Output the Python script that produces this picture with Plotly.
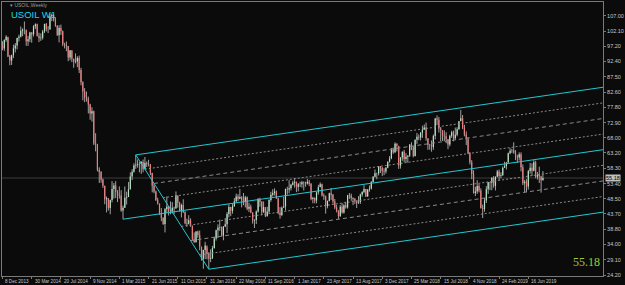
import pandas as pd
import plotly.graph_objects as go

# ---------------- data (weekly USOIL bars, week start dates) ----------------
start_week = "2013-12-08"
first_open = 97.6
closes = [
    96.6, 99.3, 100.3, 94.0, 92.7, 94.4, 96.6, 97.5, 99.9, 100.3, 102.2, 102.6, 102.6, 98.9, 99.5, 101.7,
    101.1, 103.7, 104.3, 100.6, 99.8, 100.0, 102.0, 104.4, 102.7, 102.7, 106.9, 107.3, 105.7, 103.8, 100.8, 103.1,
    102.1, 97.9, 97.7, 97.4, 93.7, 96.0, 93.3, 92.3, 92.4, 93.5, 89.7, 85.8, 82.8, 81.0, 80.5, 78.7,
    75.8, 76.5, 66.2, 65.8, 57.8, 57.1, 54.7, 52.7, 48.4, 48.7, 45.6, 48.2, 51.7, 52.8, 50.8, 49.8,
    49.6, 44.8, 45.7, 48.9, 49.1, 51.6, 55.7, 57.2, 59.2, 59.4, 59.7, 59.7, 60.3, 58.0, 60.0, 59.6,
    59.6, 56.9, 52.7, 50.9, 48.1, 47.1, 43.9, 42.5, 40.5, 45.2, 46.1, 44.6, 44.7, 45.7, 45.5, 49.6,
    47.3, 44.6, 46.6, 44.3, 40.7, 40.4, 41.7, 40.0, 35.6, 34.7, 38.1, 37.0, 33.2, 29.4, 32.2, 33.6,
    30.9, 29.4, 29.6, 32.8, 35.9, 38.5, 39.4, 39.5, 36.8, 39.7, 40.4, 43.7, 45.9, 44.7, 46.2, 47.8,
    49.3, 48.6, 49.1, 48.0, 47.6, 49.0, 45.4, 46.0, 44.2, 41.6, 41.8, 44.5, 48.5, 47.6, 44.4, 45.9,
    43.0, 44.5, 48.2, 49.8, 50.4, 50.9, 48.7, 44.1, 43.4, 45.7, 46.1, 51.7, 51.5, 51.9, 53.0, 53.7,
    54.0, 52.4, 53.2, 53.2, 53.8, 53.9, 53.4, 54.0, 53.3, 48.5, 48.8, 48.0, 50.6, 52.2, 53.2, 49.6,
    49.3, 46.2, 47.8, 50.3, 49.8, 47.7, 45.8, 44.7, 43.0, 46.0, 44.2, 46.5, 45.8, 49.7, 49.6, 48.8,
    48.5, 47.9, 47.3, 47.5, 49.9, 50.7, 51.7, 49.3, 51.5, 51.8, 53.9, 55.6, 56.7, 56.6, 59.0, 58.4,
    57.4, 57.3, 58.5, 60.4, 61.4, 64.3, 63.4, 66.1, 65.5, 59.2, 61.7, 63.6, 61.3, 62.0, 62.3, 65.9,
    64.9, 62.1, 67.4, 68.4, 68.1, 69.7, 70.7, 71.3, 67.9, 65.8, 65.7, 65.1, 68.6, 74.2, 73.8, 71.0,
    70.5, 68.7, 68.5, 67.6, 65.9, 68.7, 69.8, 67.8, 69.0, 70.8, 73.3, 74.3, 71.3, 69.1, 67.6, 63.1,
    60.2, 56.5, 50.4, 50.9, 52.6, 51.2, 45.6, 45.3, 48.0, 51.6, 53.8, 53.7, 55.3, 52.7, 55.6, 57.3,
    55.8, 56.1, 58.5, 59.0, 60.1, 63.1, 63.9, 64.0, 63.3, 61.9, 61.7, 62.8, 58.6, 53.5, 54.0, 52.5,
    57.4, 58.5, 57.5, 60.2, 55.6, 56.2, 55.7, 54.5, 55.18,
]
highs = [
    98.9, 99.5, 100.8, 100.1, 94.5, 94.6, 97.8, 98.3, 100.0, 101.0, 103.6, 103.0, 105.2, 102.4, 100.6, 101.9,
    101.8, 104.0, 104.6, 104.5, 101.6, 101.4, 102.5, 104.5, 104.7, 103.7, 107.7, 107.7, 107.5, 106.5, 104.0, 104.0,
    104.2, 102.3, 98.4, 98.8, 97.4, 96.0, 95.9, 93.3, 95.0, 94.1, 94.3, 90.4, 86.1, 83.9, 82.8, 81.2,
    78.9, 77.8, 76.7, 69.5, 66.1, 58.6, 57.4, 55.0, 52.7, 49.3, 48.8, 48.3, 54.2, 53.6, 54.2, 51.3,
    52.5, 51.3, 46.4, 52.5, 50.8, 53.9, 57.0, 58.0, 59.9, 62.6, 61.1, 60.4, 60.6, 61.1, 61.9, 60.5,
    61.0, 59.7, 56.8, 53.4, 51.2, 48.9, 46.2, 45.6, 42.6, 45.6, 49.3, 46.2, 47.7, 47.5, 46.0, 50.9,
    49.6, 47.6, 47.0, 48.4, 44.6, 42.2, 43.3, 42.3, 39.7, 37.8, 38.2, 38.4, 38.4, 33.3, 32.3, 34.8,
    33.0, 31.5, 32.4, 33.5, 36.3, 38.7, 40.4, 41.9, 39.7, 39.8, 42.4, 44.3, 46.8, 46.0, 47.1, 48.8,
    50.2, 50.0, 51.7, 49.4, 50.4, 49.5, 49.3, 47.3, 46.7, 44.2, 42.0, 44.8, 48.8, 48.9, 47.8, 47.7,
    45.3, 46.0, 48.4, 50.8, 51.6, 51.9, 51.2, 48.9, 45.9, 46.1, 49.2, 51.8, 52.4, 54.5, 53.3, 54.3,
    55.2, 54.0, 53.6, 54.0, 54.3, 54.1, 54.0, 54.9, 54.6, 53.6, 49.2, 49.0, 50.8, 53.0, 53.8, 53.4,
    50.3, 49.6, 48.0, 50.5, 52.0, 50.1, 48.5, 46.6, 44.9, 46.6, 47.2, 46.8, 47.6, 49.8, 50.4, 50.2,
    49.0, 48.8, 48.0, 49.4, 50.2, 51.0, 52.9, 51.7, 51.6, 52.8, 54.2, 55.8, 57.9, 56.9, 59.0, 58.9,
    58.7, 58.3, 58.7, 60.5, 62.2, 64.8, 64.9, 66.6, 66.3, 65.3, 61.9, 63.7, 64.2, 63.1, 62.5, 66.0,
    66.6, 65.4, 67.5, 69.6, 69.1, 69.8, 71.9, 72.3, 72.9, 67.9, 66.1, 67.2, 69.1, 74.4, 75.2, 74.7,
    71.5, 70.2, 70.4, 69.8, 67.6, 69.0, 70.3, 70.3, 71.3, 71.4, 73.4, 76.9, 75.3, 72.2, 70.1, 68.2,
    63.5, 60.9, 57.7, 52.4, 54.5, 53.3, 51.9, 46.7, 48.8, 52.6, 53.9, 54.0, 55.4, 55.8, 55.7, 57.8,
    57.9, 57.0, 58.9, 60.4, 60.3, 63.3, 64.8, 64.5, 66.6, 64.1, 62.6, 63.4, 63.4, 59.5, 54.6, 54.8,
    57.8, 60.0, 59.9, 60.9, 60.7, 57.1, 58.8, 55.9, 57.4,
]
lows = [
    96.0, 95.8, 98.7, 93.8, 91.2, 91.3, 93.5, 95.3, 96.3, 98.8, 100.1, 100.5, 101.1, 97.4, 97.4, 98.6,
    98.4, 100.4, 102.8, 100.4, 98.6, 99.0, 99.4, 101.5, 102.0, 101.5, 102.5, 105.3, 105.2, 103.5, 100.6, 98.5,
    100.9, 97.3, 96.6, 95.7, 92.5, 92.8, 92.2, 90.4, 91.8, 90.6, 88.7, 84.8, 80.0, 79.4, 79.6, 75.8,
    73.8, 73.2, 65.7, 63.7, 57.3, 53.6, 53.7, 52.0, 46.8, 44.2, 44.8, 43.6, 47.4, 48.6, 48.8, 47.5,
    48.6, 44.4, 42.0, 45.6, 46.7, 49.6, 51.5, 54.5, 56.9, 58.1, 58.5, 57.0, 56.5, 57.0, 58.0, 58.7,
    58.9, 56.1, 50.6, 50.3, 47.9, 46.7, 43.4, 41.4, 40.2, 37.8, 44.1, 43.2, 43.6, 43.9, 43.7, 45.3,
    45.7, 44.5, 42.6, 44.0, 40.4, 39.6, 40.9, 39.6, 35.2, 34.5, 34.6, 36.1, 32.1, 28.8, 26.2, 29.3,
    29.2, 26.1, 28.3, 29.3, 32.6, 35.2, 36.0, 38.3, 36.5, 35.3, 39.5, 37.6, 42.6, 43.0, 43.8, 46.0,
    47.3, 47.8, 48.4, 45.8, 46.5, 45.8, 44.9, 44.3, 43.9, 40.6, 39.2, 40.5, 44.1, 46.0, 43.3, 44.0,
    42.7, 42.9, 43.9, 47.6, 49.3, 49.6, 48.5, 43.6, 42.2, 43.0, 45.8, 44.8, 49.9, 50.3, 51.2, 52.8,
    52.1, 50.7, 50.9, 52.3, 52.1, 51.2, 52.4, 53.1, 52.6, 48.1, 47.1, 47.1, 47.1, 49.9, 52.3, 49.3,
    48.2, 43.8, 45.5, 47.8, 48.2, 47.0, 45.2, 44.2, 42.1, 42.8, 43.8, 43.8, 45.4, 45.4, 48.5, 47.9,
    46.5, 46.9, 45.6, 46.9, 46.9, 49.2, 50.3, 49.1, 49.2, 50.8, 51.5, 53.8, 55.4, 54.8, 56.0, 56.8,
    55.8, 56.1, 56.6, 58.3, 60.1, 61.2, 62.9, 63.2, 63.7, 58.1, 58.2, 60.7, 60.2, 60.2, 60.1, 61.9,
    64.1, 61.8, 62.2, 66.1, 67.3, 67.2, 68.0, 70.5, 67.1, 64.2, 64.2, 63.6, 64.2, 67.5, 72.1, 69.7,
    67.0, 67.0, 66.9, 66.3, 64.4, 65.3, 68.0, 66.9, 67.4, 68.5, 70.6, 73.5, 70.8, 68.5, 65.7, 62.8,
    59.5, 54.8, 50.2, 49.4, 50.1, 50.6, 45.4, 42.4, 44.4, 47.2, 50.1, 51.3, 51.3, 52.1, 51.2, 55.4,
    54.5, 55.1, 55.9, 58.4, 57.9, 60.2, 62.8, 63.2, 62.9, 60.9, 60.0, 60.8, 57.3, 52.9, 50.6, 50.7,
    51.5, 56.6, 55.8, 57.3, 55.1, 54.7, 53.6, 50.5, 54.4,
]

# price scale labels
price_ticks = [107.00, 102.10, 97.20, 92.40, 87.50, 82.60, 77.80, 72.90, 68.00,
               63.20, 58.30, 53.40, 48.50, 43.70, 38.80, 34.00, 29.10, 24.20]
# time scale labels
date_ticks = ["2013-12-08", "2014-03-30", "2014-07-20", "2014-11-09", "2015-03-01",
              "2015-06-21", "2015-10-11", "2016-01-31", "2016-05-22", "2016-09-11",
              "2017-01-01", "2017-04-23", "2017-08-13", "2017-12-03", "2018-03-25",
              "2018-07-15", "2018-11-04", "2019-02-24", "2019-06-16"]
date_tick_text = ["8 Dec 2013", "30 Mar 2014", "20 Jul 2014", "9 Nov 2014", "1 Mar 2015",
                  "21 Jun 2015", "11 Oct 2015", "31 Jan 2016", "22 May 2016", "11 Sep 2016",
                  "1 Jan 2017", "23 Apr 2017", "13 Aug 2017", "3 Dec 2017", "25 Mar 2018",
                  "15 Jul 2018", "4 Nov 2018", "24 Feb 2019", "16 Jun 2019"]

# Andrews pitchfork anchors (A = handle, B = upper, C = lower)
pf_dates = ["2015-03-15", "2015-05-03", "2016-02-07"]
pf_prices = [42.03, 62.57, 26.05]
pf_levels = [0.125, 0.25, 0.375, 0.625, 0.75, 0.875]
pf_level_dash = ["2px,2px", "4px,3px", "2px,2px", "2px,2px", "4px,3px", "2px,2px"]

current_price = 55.18
symbol_title = "USOIL W1"
header_text = "USOIL,Weekly"

# ---------------- build ----------------
dates = pd.date_range(start_week, periods=len(closes), freq="7D")
opens = [first_open] + closes[:-1]

BG = "#0b0b0b"
FRAME = "#7a7a7a"
WICK = "#a0a0a0"
BULL = "#b5e3c2"
BEAR = "#f07c7c"
CYAN = "#22c8d0"

fig = go.Figure()

# wicks
wx, wy = [], []
for d, h, l in zip(dates, highs, lows):
    wx += [d, d, None]
    wy += [l, h, None]
fig.add_trace(go.Scatter(x=wx, y=wy, mode="lines", line=dict(color=WICK, width=1),
                         hoverinfo="skip", showlegend=False))
# bodies
for up, col in ((True, BULL), (False, BEAR)):
    bx, by = [], []
    for d, o, c in zip(dates, opens, closes):
        if (c >= o) == up:
            bx += [d, d, None]
            by += [o, c, None]
    fig.add_trace(go.Scatter(x=bx, y=by, mode="lines", line=dict(color=col, width=1.2),
                             hoverinfo="skip", showlegend=False))

# pitchfork
t = [pd.Timestamp(s) for s in pf_dates]
A, B, C = [(tt, p) for tt, p in zip(t, pf_prices)]
mid_t = B[0] + (C[0] - B[0]) / 2
mid_p = (B[1] + C[1]) / 2
slope = (mid_p - A[1]) / ((mid_t - A[0]) / pd.Timedelta(days=1))  # price per day
end_t = dates[0] + pd.Timedelta(weeks=340)


def ray(t0, p0):
    days = (end_t - t0) / pd.Timedelta(days=1)
    return [t0, end_t], [p0, p0 + slope * days]


for (t0, p0) in (A, B, C):
    xs, ys = ray(t0, p0)
    fig.add_trace(go.Scatter(x=xs, y=ys, mode="lines", line=dict(color=CYAN, width=1),
                             hoverinfo="skip", showlegend=False))
fig.add_trace(go.Scatter(x=[B[0], C[0]], y=[B[1], C[1]], mode="lines",
                         line=dict(color=CYAN, width=1), hoverinfo="skip", showlegend=False))
for lv, dash in zip(pf_levels, pf_level_dash):
    t0 = B[0] + (C[0] - B[0]) * lv
    p0 = B[1] + (C[1] - B[1]) * lv
    xs, ys = ray(t0, p0)
    fig.add_trace(go.Scatter(x=xs, y=ys, mode="lines", line=dict(color="#8a8a8a", width=1, dash=dash),
                             hoverinfo="skip", showlegend=False))

# bid line
fig.add_shape(type="line", xref="paper", x0=0, x1=1, yref="y", y0=current_price, y1=current_price,
              line=dict(color="#3c3c3c", width=1), layer="below")

# axis ranges (weekly spacing ~1.844 px)
x_left = dates[0] - pd.Timedelta(days=7 * 0.27)
x_right = dates[0] + pd.Timedelta(days=7 * 328.9)

fig.update_layout(
    width=625, height=285,
    margin=dict(l=1, r=18, t=1, b=9),
    paper_bgcolor=BG, plot_bgcolor=BG,
    showlegend=False,
    xaxis=dict(type="date", range=[x_left, x_right], showgrid=False, zeroline=False,
               tickvals=date_ticks, showticklabels=False, ticks="outside", ticklen=2,
               tickcolor=FRAME, showline=True, linecolor=FRAME, linewidth=1, mirror=True),
    yaxis=dict(side="right", range=[23.88, 111.42], showgrid=False, zeroline=False,
               tickvals=price_ticks, ticktext=[f"{v:.2f}" for v in price_ticks],
               tickfont=dict(family="Liberation Sans, Arial", size=5.5, color="#c8c8c8"),
               ticks="outside", ticklen=2, tickcolor=FRAME,
               showline=True, linecolor=FRAME, linewidth=1, mirror=True),
)

ann = []
for d, txt in zip(date_ticks, date_tick_text):
    ann.append(dict(x=d, y=0, xref="x", yref="paper", text=txt, showarrow=False,
                    xanchor="left", yanchor="top", xshift=1, yshift=-1,
                    font=dict(family="Liberation Sans, Arial", size=4.6, color="#c8c8c8")))
ann.append(dict(x=0.012, y=1.0, xref="paper", yref="paper", text="▾ " + header_text,
                showarrow=False, xanchor="left", yanchor="top", borderpad=0, yshift=1,
                font=dict(family="Liberation Sans, Arial", size=5, color="#9a9a9a")))
ann.append(dict(x=0.014, y=0.978, xref="paper", yref="paper", text=symbol_title,
                showarrow=False, xanchor="left", yanchor="top", borderpad=0,
                font=dict(family="Liberation Sans, Arial", size=9.5, color="#18d8ee")))
ann.append(dict(x=1, y=current_price, xref="paper", yref="y", text=f"{current_price:.2f}",
                showarrow=False, xanchor="left", yanchor="middle", xshift=2,
                bgcolor="#c0c0c0", borderpad=0,
                font=dict(family="Liberation Sans, Arial", size=5.5, color="#000000")))
ann.append(dict(x=0.998, y=0.02, xref="paper", yref="paper", text=f"{current_price:.2f}",
                showarrow=False, xanchor="right", yanchor="bottom",
                font=dict(family="Liberation Serif, Times New Roman, serif", size=12, color="#9acd32")))
fig.update_layout(annotations=ann)

fig.write_html("out.html", config={"displayModeBar": False})
